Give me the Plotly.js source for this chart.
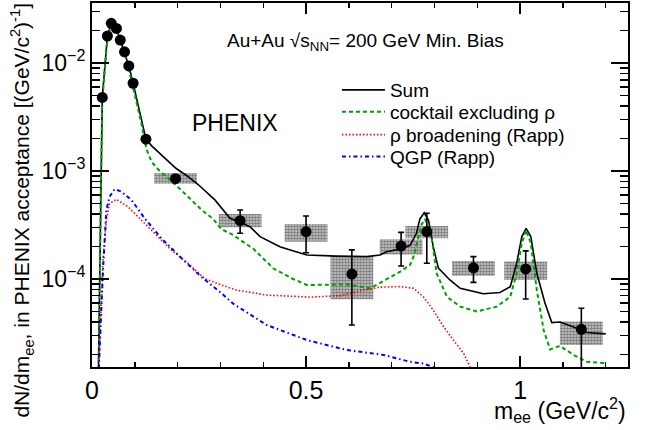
<!DOCTYPE html>
<html>
<head>
<meta charset="utf-8">
<script src="https://cdn.plot.ly/plotly-3.0.1.min.js"></script>
<style>html,body{margin:0;padding:0;background:#fff;}#chart{width:651px;height:430px;}</style>
</head>
<body>
<div id="chart"></div>
<script>
// ---- data points (PHENIX Au+Au min. bias) ----
const mass      = [0.024, 0.036, 0.045, 0.057, 0.066, 0.076, 0.086, 0.096, 0.126, 0.195, 0.346, 0.500, 0.607, 0.722, 0.782, 0.891, 1.013, 1.143];
const yieldData = [4.8e-3, 1.78e-2, 2.33e-2, 2.09e-2, 1.63e-2, 1.27e-2, 9.4e-3, 6.5e-3, 1.97e-3, 8.5e-4, 3.47e-4, 2.74e-4, 1.11e-4, 2.02e-4, 2.74e-4, 1.27e-4, 1.24e-4, 3.42e-5];
const statHi    = [null, null, null, null, null, null, null, null, null, null, 4.36e-4, 3.83e-4, 1.86e-4, 2.70e-4, 4.06e-4, 1.61e-4, 1.82e-4, 5.36e-5];
const statLo    = [null, null, null, null, null, null, null, null, null, null, 2.65e-4, 1.75e-4, 3.75e-5, 1.32e-4, 1.40e-4, 9.3e-5, 6.53e-5, 1.0e-5];
const sysHi     = [null, null, null, null, null, null, null, null, null, 9.57e-4, 4.0e-4, 3.23e-4, 1.63e-4, 2.33e-4, 3.10e-4, 1.47e-4, 1.45e-4, 4.03e-5];
const sysLo     = [null, null, null, null, null, null, null, null, null, 7.64e-4, 3.01e-4, 2.21e-4, 6.49e-5, 1.69e-4, 2.38e-4, 1.07e-4, 9.8e-5, 2.45e-5];
const sysHalfWidth = 0.05;

// ---- model curves ----
const sumMass = [0.012, 0.0147, 0.0203, 0.024, 0.036, 0.045, 0.057, 0.066, 0.076, 0.086, 0.096, 0.126, 0.140, 0.174, 0.196, 0.224, 0.248, 0.287, 0.315, 0.3224, 0.346, 0.369, 0.3925, 0.408, 0.439, 0.463, 0.502, 0.572, 0.642, 0.673, 0.688, 0.722, 0.743, 0.751, 0.758, 0.766, 0.776, 0.786, 0.797, 0.809, 0.836, 0.860, 0.914, 0.953, 0.977, 0.992, 1.004, 1.014, 1.025, 1.039, 1.058, 1.074, 1.093, 1.125, 1.156, 1.200];
const sumVals = [2e-6, 1.5e-5, 5.4e-4, 4.8e-3, 1.78e-2, 2.33e-2, 2.09e-2, 1.63e-2, 1.27e-2, 9.4e-3, 6.5e-3, 1.97e-3, 1.70e-3, 1.26e-3, 1.06e-3, 8.9e-4, 7.5e-4, 5.4e-4, 4.0e-4, 3.65e-4, 3.35e-4, 3.05e-4, 2.47e-4, 2.30e-4, 1.99e-4, 1.86e-4, 1.67e-4, 1.63e-4, 1.61e-4, 1.67e-4, 1.79e-4, 1.90e-4, 2.05e-4, 2.35e-4, 2.65e-4, 3.6e-4, 4.1e-4, 3.5e-4, 2.0e-4, 1.26e-4, 9.8e-5, 8.2e-5, 7.3e-5, 7.5e-5, 8.5e-5, 1.40e-4, 2.47e-4, 2.94e-4, 2.47e-4, 1.13e-4, 6.0e-5, 3.95e-5, 4.0e-5, 3.6e-5, 3.2e-5, 3.1e-5];

const cocktailMass = [0.012, 0.015, 0.0203, 0.024, 0.036, 0.045, 0.057, 0.066, 0.076, 0.086, 0.096, 0.105, 0.115, 0.127, 0.139, 0.158, 0.178, 0.2166, 0.255, 0.283, 0.302, 0.330, 0.377, 0.424, 0.470, 0.502, 0.595, 0.650, 0.704, 0.720, 0.743, 0.751, 0.770, 0.778, 0.794, 0.805, 0.829, 0.860, 0.899, 0.9455, 0.977, 0.992, 1.004, 1.014, 1.025, 1.039, 1.055, 1.070, 1.093, 1.125, 1.156, 1.200];
const cocktailVals = [1e-6, 1.2e-5, 5.0e-4, 4.5e-3, 1.7e-2, 2.25e-2, 2.05e-2, 1.6e-2, 1.22e-2, 8.8e-3, 6.0e-3, 4.2e-3, 2.8e-3, 1.6e-3, 1.22e-3, 1.0e-3, 8.6e-4, 6.2e-4, 4.4e-4, 3.6e-4, 2.9e-4, 2.55e-4, 1.9e-4, 1.25e-4, 1.0e-4, 8.8e-5, 8.9e-5, 8.2e-5, 1.09e-4, 1.17e-4, 1.35e-4, 1.61e-4, 3.2e-4, 3.6e-4, 2.3e-4, 1.13e-4, 6.85e-5, 5.55e-5, 5.0e-5, 5.55e-5, 6.85e-5, 1.13e-4, 2.14e-4, 2.84e-4, 2.14e-4, 7.9e-5, 3.37e-5, 2.23e-5, 2.4e-5, 1.98e-5, 1.71e-5, 1.66e-5];

const rhoMass = [0.012, 0.016, 0.0257, 0.0335, 0.041, 0.057, 0.084, 0.115, 0.1465, 0.185, 0.224, 0.263, 0.302, 0.337, 0.408, 0.509, 0.579, 0.634, 0.673, 0.720, 0.751, 0.774, 0.797, 0.821, 0.844, 0.868, 0.881, 0.900, 0.950, 1.000, 1.100, 1.200];
const rhoVals = [1e-6, 1.5e-5, 1.5e-4, 3.5e-4, 5.0e-4, 5.47e-4, 4.67e-4, 3.5e-4, 2.65e-4, 1.86e-4, 1.40e-4, 1.01e-4, 8.8e-5, 7.9e-5, 7.1e-5, 6.8e-5, 7.0e-5, 7.9e-5, 8.4e-5, 8.5e-5, 8.2e-5, 6.85e-5, 5.16e-5, 3.62e-5, 2.72e-5, 2.05e-5, 1.6e-5, 1.0e-5, 4e-6, 2e-6, 1e-6, 8e-7];

const qgpMass = [0.012, 0.016, 0.0257, 0.0335, 0.041, 0.053, 0.0685, 0.092, 0.123, 0.162, 0.209, 0.255, 0.302, 0.330, 0.408, 0.502, 0.595, 0.681, 0.743, 0.774, 0.801, 0.850, 0.900, 1.000, 1.200];
const qgpVals = [1e-6, 1.5e-5, 1.2e-4, 4.35e-4, 5.78e-4, 6.8e-4, 6.44e-4, 5.4e-4, 3.65e-4, 2.38e-4, 1.56e-4, 1.05e-4, 7.4e-5, 5.9e-5, 3.75e-5, 2.72e-5, 2.2e-5, 1.98e-5, 1.71e-5, 1.65e-5, 1.5e-5, 1.3e-5, 1.1e-5, 8e-6, 5e-6];

const legendNames = ['Sum', 'cocktail excluding ρ', 'ρ broadening (Rapp)', 'QGP (Rapp)'];

// ---- build traces ----
const FONT = 'Liberation Sans, Arial, Helvetica, sans-serif';
const boxX = [], boxY = [];
mass.forEach((m, i) => {
  if (sysHi[i] == null) return;
  boxX.push(m - sysHalfWidth, m + sysHalfWidth, m + sysHalfWidth, m - sysHalfWidth, m - sysHalfWidth, null);
  boxY.push(sysLo[i], sysLo[i], sysHi[i], sysHi[i], sysLo[i], null);
});
const errUp = yieldData.map((y, i) => statHi[i] == null ? 0 : statHi[i] - y);
const errDn = yieldData.map((y, i) => statLo[i] == null ? 0 : y - statLo[i]);

const traces = [
  {x: boxX, y: boxY, mode: 'lines', fill: 'toself', line: {width: 0, color: 'rgba(0,0,0,0)'},
   fillcolor: '#b0b0b0',
   fillpattern: {shape: '.', fgcolor: '#7a7a7a', bgcolor: '#cccccc', size: 3, solidity: 0.55},
   showlegend: false, hoverinfo: 'skip'},
  {x: sumMass, y: sumVals, mode: 'lines', name: legendNames[0], legend: 'legend', line: {color: '#000000', width: 1.6}},
  {x: cocktailMass, y: cocktailVals, mode: 'lines', name: legendNames[1], legend: 'legend2', line: {color: '#00a000', width: 2, dash: '4px,3px'}},
  {x: rhoMass, y: rhoVals, mode: 'lines', name: legendNames[2], legend: 'legend3', line: {color: '#ff0000', width: 1.6, dash: '1.5px,2px'}},
  {x: qgpMass, y: qgpVals, mode: 'lines', name: legendNames[3], legend: 'legend4', line: {color: '#0000ff', width: 2, dash: '4px,3px,1.5px,3px'}},
  {x: mass, y: yieldData, mode: 'markers', showlegend: false,
   marker: {symbol: 'circle', size: 11, color: '#000000'},
   error_y: {type: 'data', symmetric: false, array: errUp, arrayminus: errDn, color: '#000000', thickness: 1.6, width: 3}}
];

// minor y ticks
const yMinor = [];
for (let e = -5; e <= -2; e++) for (let k = 2; k <= 9; k++) yMinor.push(k * Math.pow(10, e));

function leg(yc) {
  return {x: 0.457, xanchor: 'left', y: yc, yanchor: 'middle', bgcolor: 'rgba(0,0,0,0)',
          font: {family: FONT, size: 19}, itemwidth: 43, borderwidth: 0};
}

const layout = {
  width: 651, height: 430,
  margin: {l: 92, r: 23, t: 3, b: 63},
  paper_bgcolor: '#ffffff', plot_bgcolor: '#ffffff',
  font: {family: FONT, color: '#000000', size: 17},
  showlegend: true,
  legend: leg(0.761), legend2: leg(0.7005), legend3: leg(0.638), legend4: leg(0.578),
  xaxis: {range: [0, 1.252], showgrid: false, zeroline: false,
          showline: true, linecolor: '#000', linewidth: 2, mirror: 'allticks',
          ticks: 'inside', ticklen: 11, tickwidth: 1.5, tickcolor: '#000',
          tickvals: [0, 0.5, 1], ticktext: ['0', '0.5', '1'],
          tickfont: {family: FONT, size: 25},
          minor: {tickvals: [0.1, 0.2, 0.3, 0.4, 0.6, 0.7, 0.8, 0.9, 1.1, 1.2], ticks: 'inside', ticklen: 5, tickwidth: 1.5, tickcolor: '#000', showgrid: false}},
  yaxis: {type: 'log', range: [-4.815, -1.444], showgrid: false, zeroline: false,
          showline: true, linecolor: '#000', linewidth: 2, mirror: 'allticks',
          ticks: 'inside', ticklen: 17, tickwidth: 1.5, tickcolor: '#000',
          tickvals: [1e-4, 1e-3, 1e-2], ticktext: ['10<sup>−4</sup>', '10<sup>−3</sup>', '10<sup>−2</sup>'],
          tickfont: {family: FONT, size: 23},
          minor: {tickvals: yMinor, ticks: 'inside', ticklen: 8, tickwidth: 1.5, tickcolor: '#000', showgrid: false}},
  annotations: [
    {xref: 'paper', yref: 'paper', x: 0.267, y: 0.670, xanchor: 'center', yanchor: 'middle', showarrow: false,
     text: 'PHENIX', font: {family: FONT, size: 23}},
    {xref: 'paper', yref: 'paper', x: 0.511, y: 0.893, xanchor: 'center', yanchor: 'middle', showarrow: false,
     text: 'Au+Au √s<sub>NN</sub>= 200 GeV Min. Bias', font: {family: FONT, size: 19}},
    {xref: 'paper', yref: 'paper', x: 1.0, y: -0.118, xanchor: 'right', yanchor: 'middle', showarrow: false,
     text: 'm<sub>ee</sub> (GeV/c<sup>2</sup>)', font: {family: FONT, size: 23}},
    {xref: 'paper', yref: 'paper', x: -0.1306, y: 1.008, xanchor: 'center', yanchor: 'top', showarrow: false, textangle: -90,
     text: 'dN/dm<sub>ee</sub>, in PHENIX acceptance [(GeV/c<sup>2</sup>)<sup>-1</sup>]', font: {family: FONT, size: 21}}
  ]
};

Plotly.newPlot('chart', traces, layout, {staticPlot: true, displayModeBar: false});
</script>
</body>
</html>
